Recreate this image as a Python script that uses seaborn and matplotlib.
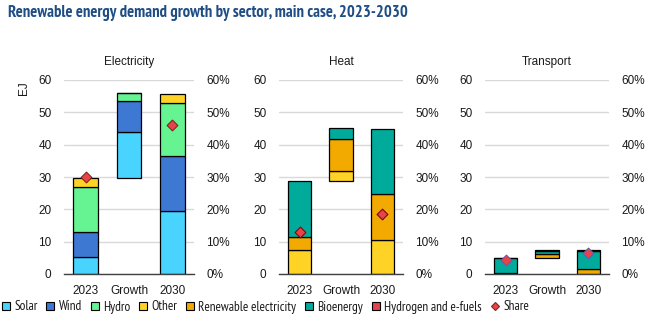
import matplotlib
matplotlib.use("Agg")
import matplotlib.pyplot as plt
import matplotlib.font_manager as fm
from matplotlib.lines import Line2D
from matplotlib.ticker import FuncFormatter, FixedLocator
import seaborn as sns
import numpy as np
import pandas as pd

# ---------------- data ----------------
categories = ["2023", "Growth", "2030"]

elec_solar = [5.2, 14.3, 19.5]
elec_wind = [7.8, 9.4, 17.1]
elec_hydro = [13.9, 2.5, 16.4]
elec_other = [2.8, 0.0, 2.6]
elec_share = [30.0, np.nan, 46.2]

heat_other = [7.5, 2.9, 10.6]
heat_renel = [4.0, 9.9, 14.0]
heat_bio = [17.4, 3.4, 20.4]
heat_share = [13.1, np.nan, 18.6]

trans_renel = [0.2, 1.5, 1.7]
trans_bio = [4.6, 0.9, 5.5]
trans_h2 = [0.0, 0.2, 0.2]
trans_share = [4.2, np.nan, 6.6]

panel_titles = ["Electricity", "Heat", "Transport"]
y_ticks = [0, 10, 20, 30, 40, 50, 60]
legend_labels = ["Solar", "Wind", "Hydro", "Other", "Renewable electricity",
                 "Bioenergy", "Hydrogen and e-fuels", "Share"]

colors = {
    "Solar": "#48D4FF",
    "Wind": "#3D78D2",
    "Hydro": "#66F391",
    "Other": "#FFD326",
    "Renewable electricity": "#F2A900",
    "Bioenergy": "#00AB9C",
    "Hydrogen and e-fuels": "#E4434F",
    "Share": "#E8434A",
}

# ---------------- style ----------------
sns.set_theme(style="white")
names = {f.name for f in fm.fontManager.ttflist}
base_font = "Liberation Sans" if "Liberation Sans" in names else "DejaVu Sans"
narrow_font = "PT Sans Narrow" if "PT Sans Narrow" in names else base_font
plt.rcParams["font.family"] = [base_font, "DejaVu Sans"]
text_color = "#1a1a1a"

fig = plt.figure(figsize=(6.65, 3.26), dpi=100)

panels = [
    ("Electricity", [("Solar", elec_solar), ("Wind", elec_wind), ("Hydro", elec_hydro), ("Other", elec_other)],
     elec_share, "#8B2020"),
    ("Heat", [("Other", heat_other), ("Renewable electricity", heat_renel), ("Bioenergy", heat_bio)],
     heat_share, "#6A1010"),
    ("Transport", [("Renewable electricity", trans_renel), ("Bioenergy", trans_bio),
                   ("Hydrogen and e-fuels", trans_h2)],
     trans_share, "#6A5AAA"),
]

lefts_px = [64, 279, 485]
widths_px = [130, 124, 124]
W, H = 665, 326
bottom = 1 - 274 / H
height = (274 - 80) / H
bar_w = 0.57

for (title, series, share, share_edge), lp, wp in zip(panels, lefts_px, widths_px):
    ax = fig.add_axes([lp / W, bottom, wp / W, height])
    x = np.arange(len(categories))
    base2023 = sum(s[1][0] for s in series)
    bottoms = np.array([0.0, base2023, 0.0])
    for name, vals in series:
        vals = np.array(vals, dtype=float)
        ax.bar(x, vals, bar_w, bottom=bottoms, color=colors[name],
               edgecolor="black", linewidth=0.9, zorder=3)
        bottoms = bottoms + vals
    ax.set_xlim(-0.5, 2.5)
    ax.set_ylim(0, 60)
    ax.yaxis.set_major_locator(FixedLocator(y_ticks))
    ax.grid(axis="y", color="#D9D9D9", linewidth=1.0, zorder=0)
    ax.grid(axis="x", visible=False)
    for sp in ["left", "right", "top"]:
        ax.spines[sp].set_visible(False)
    ax.spines["bottom"].set_color("#404040")
    ax.spines["bottom"].set_linewidth(1.0)
    ax.spines["bottom"].set_zorder(4)
    ax.set_xticks(x)
    ax.set_xticklabels(categories)
    ax.set_xticks([-0.5, 0.5, 1.5, 2.5], minor=True)
    ax.tick_params(axis="x", which="major", length=0, pad=8, labelsize=8.5, labelcolor=text_color)
    ax.tick_params(axis="x", which="minor", length=4, width=1.0, color="#404040", direction="out")
    ax.tick_params(axis="y", length=0, pad=9, labelsize=8.5, labelcolor=text_color)
    ax.set_title(title, fontsize=8.5, color=text_color, pad=11)

    ax2 = ax.twinx()
    ax2.set_ylim(0, 0.6)
    ax2.yaxis.set_major_locator(FixedLocator([v / 100 for v in y_ticks]))
    ax2.yaxis.set_major_formatter(FuncFormatter(lambda v, p: f"{v*100:.0f}%"))
    ax2.tick_params(axis="y", length=0, pad=9, labelsize=8.5, labelcolor=text_color)
    for sp in ax2.spines.values():
        sp.set_visible(False)
    ax2.grid(False)
    share_arr = np.array(share, dtype=float) / 100
    sdf = pd.DataFrame({"x": x, "share": share_arr}).dropna()
    ax2.scatter(sdf["x"], sdf["share"], marker="D", s=30, color=colors["Share"],
                edgecolor=share_edge, linewidth=0.8, zorder=5)

fig.text(24 / W, 1 - 88 / H, "EJ", rotation=90, ha="center", va="center",
         fontsize=8.5, color=text_color)

fig.text(8 / W, 1 - 13 / H, "Renewable energy demand growth by sector, main case, 2023-2030",
         fontsize=12, fontweight="bold", color="#1F4E85", ha="left", va="center",
         family=[narrow_font, "DejaVu Sans"])

handles = []
for lab in legend_labels[:-1]:
    handles.append(Line2D([], [], linestyle="none", marker="s", markersize=5.5,
                          markerfacecolor=colors[lab], markeredgecolor="black", markeredgewidth=0.8))
handles.append(Line2D([], [], linestyle="none", marker="D", markersize=4.5,
                      markerfacecolor=colors["Share"], markeredgecolor="#8B2020", markeredgewidth=0.8))
fig.legend(handles, legend_labels, loc="center", bbox_to_anchor=(265 / W, 1 - 307 / H),
           ncol=8, frameon=False, handlelength=0.7, handletextpad=0.3,
           columnspacing=0.6, borderaxespad=0, borderpad=0, labelcolor=text_color,
           prop={"family": [narrow_font, "DejaVu Sans"], "size": 9.5})

fig.savefig("out.png", dpi=100)
